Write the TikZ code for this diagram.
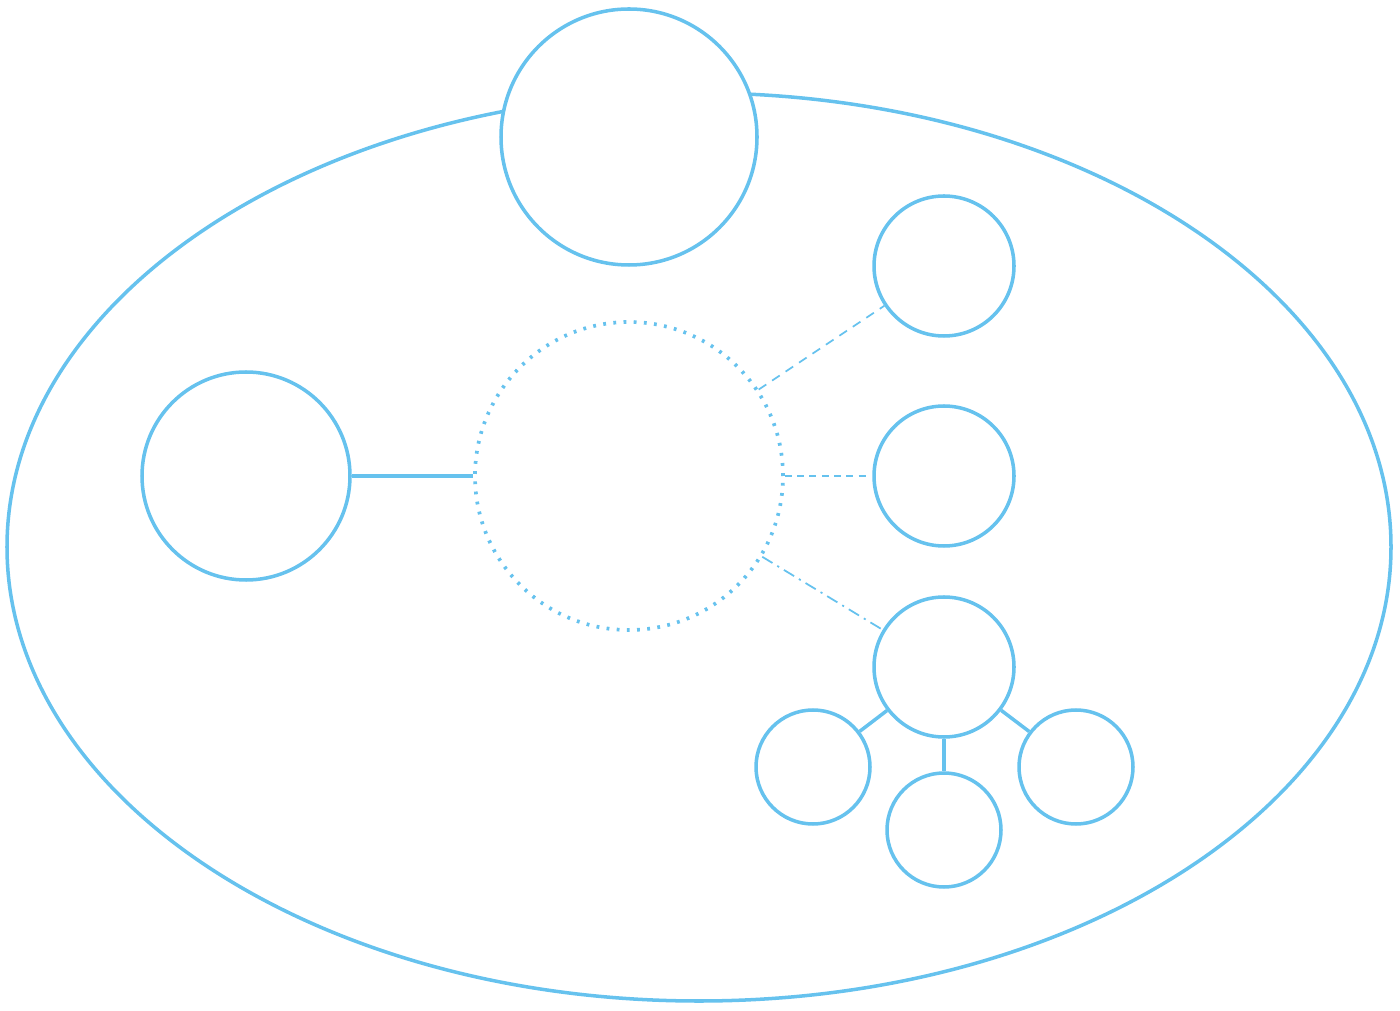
\documentclass[tikz,border=0pt]{standalone}
\usepackage{tikz}
\definecolor{skyline}{HTML}{66C2EE}
\tikzset{
  ball/.style={circle, draw=skyline, fill=white, line width=1pt, inner sep=0pt},
  hubball/.style={circle, draw=skyline, line width=1.05pt, inner sep=0pt,
    dash pattern=on 0.8pt off 2.1pt},
  link/.style={draw=skyline, line width=1pt},
  dashlink/.style={draw=skyline, line width=0.5pt, dash pattern=on 2.6pt off 2pt},
  dotlink/.style={draw=skyline, line width=0.5pt, dash pattern=on 3.4pt off 1.6pt on 0.6pt off 1.6pt}
}
\begin{document}
\begin{tikzpicture}
		%%%%% START %%%%%
		\useasboundingbox (0, 0) rectangle (14, 10.1);
		
		\draw[skyline, line width=1pt] (6.99, 4.63) ellipse (6.92 and 4.54);
		\node[ball, minimum size=2.56cm] (top) at (6.29, 8.73) {};
		
		\node[ball, minimum size=2.08cm] (left) at (2.46, 5.34) {};
		\node[hubball, minimum size=3.08cm] (hub) at (6.29, 5.34) {};
		
		\node[ball, minimum size=1.40cm] (upper) at (9.44, 7.44) {};
		\node[ball, minimum size=1.40cm] (middle) at (9.44, 5.34) {};
		\node[ball, minimum size=1.40cm] (lower) at (9.44, 3.43) {};
		
		\node[ball, minimum size=1.14cm] (leaf1) at (8.13, 2.43) {};
		\node[ball, minimum size=1.14cm] (leaf2) at (9.44, 1.80) {};
		\node[ball, minimum size=1.14cm] (leaf3) at (10.76, 2.43) {};
		
		\draw[link] (left) -- (hub);
		\draw[dashlink] (hub) -- (upper);
		\draw[dashlink, dash pattern=on 2pt off 1.5pt, shorten >=1.5pt] (hub) -- (middle);
		\draw[dotlink] (hub) -- (lower);
		
		\draw[link] (lower) -- (leaf1);
		\draw[link] (lower) -- (leaf2);
		\draw[link] (lower) -- (leaf3);
		
		%%%%% END %%%%%
	\end{tikzpicture}
\end{document}
